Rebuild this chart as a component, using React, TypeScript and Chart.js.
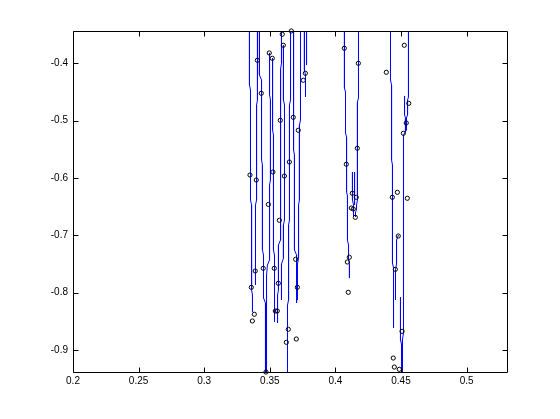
import React, { useEffect, useRef } from "react";
import { Chart, registerables } from "chart.js";

Chart.register(...registerables);

// ---- axis ranges & ticks ----
const xMin = 0.2;
const xMax = 0.531555;
const yMin = -0.9401;
const yMax = -0.3437;
const xTickValues = [0.2, 0.25, 0.3, 0.35, 0.4, 0.45, 0.5];
const xTickLabels = ["0.2", "0.25", "0.3", "0.35", "0.4", "0.45", "0.5"];
const yTickValues = [-0.9, -0.8, -0.7, -0.6, -0.5, -0.4];
const yTickLabels = ["-0.9", "-0.8", "-0.7", "-0.6", "-0.5", "-0.4"];

// ---- circle markers ----
const circleX = [
  0.3595, 0.3664, 0.3603, 0.3496, 0.3519, 0.3405, 0.3771, 0.3755, 0.3435, 0.3679,
  0.358, 0.3717, 0.3649, 0.3524, 0.3349, 0.3397, 0.3611, 0.3489, 0.3573, 0.3697,
  0.345, 0.3534, 0.3389, 0.3359, 0.3565, 0.371, 0.3382, 0.3367, 0.3542, 0.3557,
  0.3641, 0.3626, 0.3702, 0.3471,
  0.4068, 0.4175, 0.4388, 0.4525, 0.4559, 0.454, 0.4518, 0.4167, 0.4083, 0.4129,
  0.4159, 0.4434, 0.4472, 0.4548, 0.4121, 0.4136, 0.4152, 0.4106, 0.4091, 0.4098,
  0.4479, 0.4457, 0.4508, 0.4441, 0.4449, 0.4487,
];
const circleY = [
  -0.3494, -0.3437, -0.3686, -0.382, -0.3913, -0.3948, -0.4174, -0.4296, -0.4523, -0.4942,
  -0.4994, -0.5168, -0.5721, -0.5896, -0.5948, -0.6035, -0.5966, -0.6462, -0.6738, -0.7418,
  -0.7575, -0.7575, -0.7622, -0.7907, -0.7837, -0.7907, -0.8377, -0.8494, -0.832, -0.832,
  -0.8639, -0.8866, -0.8808, -0.9384,
  -0.3738, -0.4, -0.4157, -0.3686, -0.4698, -0.5041, -0.5221, -0.5482, -0.5761, -0.6267,
  -0.6337, -0.6337, -0.625, -0.6354, -0.6524, -0.6541, -0.6686, -0.7383, -0.7465, -0.7994,
  -0.7012, -0.7593, -0.8674, -0.914, -0.9297, -0.9337,
];

// ---- blue traces ([x, y] pairs) ----
const traceL1: [number, number][] = [[0.3345, -0.34], [0.3345, -0.4378], [0.3353, -0.4465], [0.3353, -0.6384], [0.3361, -0.6471], [0.3361, -0.7954], [0.3368, -0.8041], [0.3368, -0.8337]];
const traceL2: [number, number][] = [[0.3406, -0.34], [0.3406, -0.464], [0.3399, -0.4727], [0.3399, -0.6384], [0.3391, -0.6471], [0.3391, -0.7866]];
const traceL3: [number, number][] = [[0.3421, -0.34], [0.3421, -0.4204], [0.3437, -0.4291], [0.3437, -0.5686], [0.3444, -0.5774], [0.3444, -0.7256], [0.3452, -0.7343], [0.3452, -0.8093], [0.3467, -0.818], [0.3467, -0.945]];
const traceL4: [number, number][] = [[0.3498, -0.382], [0.3498, -0.455], [0.3505, -0.464], [0.3505, -0.6035], [0.3498, -0.6122], [0.3498, -0.743], [0.3482, -0.7517], [0.3475, -0.77], [0.3475, -0.945]];
const traceL5: [number, number][] = [[0.3521, -0.3908], [0.3521, -0.5163], [0.3528, -0.525], [0.3528, -0.7256], [0.3536, -0.7343], [0.3536, -0.8512]];
const traceL6: [number, number][] = [[0.3589, -0.34], [0.3589, -0.4], [0.3582, -0.41], [0.3582, -0.5512], [0.3582, -0.5599], [0.3582, -0.7082], [0.3566, -0.7169], [0.3566, -0.7954], [0.3559, -0.8041], [0.3559, -0.8529]];
const traceL7: [number, number][] = [[0.3604, -0.3681], [0.3604, -0.464], [0.3612, -0.4727], [0.3612, -0.6733], [0.3604, -0.682], [0.3604, -0.74], [0.3589, -0.75], [0.3589, -0.8128]];
const traceL8: [number, number][] = [[0.3658, -0.34], [0.3658, -0.464], [0.365, -0.4727], [0.365, -0.6733], [0.3643, -0.682], [0.3643, -0.8128], [0.3635, -0.8215], [0.3635, -0.945]];
const traceL9: [number, number][] = [[0.3681, -0.34], [0.3681, -0.5512], [0.3688, -0.5599], [0.3688, -0.7256], [0.3704, -0.7343], [0.3704, -0.818]];
const traceL10: [number, number][] = [[0.3734, -0.34], [0.3734, -0.4989], [0.3726, -0.5076], [0.3726, -0.6384], [0.3719, -0.6471], [0.3719, -0.74], [0.3711, -0.75], [0.3711, -0.8128]];
const traceL11: [number, number][] = [[0.3764, -0.34], [0.3764, -0.4117], [0.3772, -0.4204], [0.3772, -0.4588]];
const traceL12: [number, number][] = [[0.378, -0.34], [0.378, -0.4031]];
const traceR1: [number, number][] = [[0.4069, -0.34], [0.4069, -0.4431], [0.4077, -0.4501], [0.4077, -0.5216], [0.4085, -0.5285], [0.4085, -0.6244], [0.4092, -0.6314], [0.4092, -0.7082], [0.41, -0.7169], [0.41, -0.74], [0.4107, -0.75], [0.4107, -0.7745]];
const traceR2: [number, number][] = [[0.4176, -0.34], [0.4176, -0.4605], [0.4168, -0.4675], [0.4168, -0.6384], [0.4161, -0.6471], [0.4161, -0.655], [0.4153, -0.66], [0.4153, -0.6681]];
const traceR3: [number, number][] = [[0.413, -0.5896], [0.413, -0.6384], [0.4138, -0.6471], [0.4138, -0.6681]];
const traceR3b: [number, number][] = [[0.4146, -0.5896], [0.4146, -0.6471]];
const traceR4: [number, number][] = [[0.442, -0.34], [0.442, -0.4291], [0.4428, -0.4378], [0.4428, -0.5686], [0.4435, -0.5774], [0.4435, -0.7483], [0.4443, -0.757], [0.4443, -0.8616]];
const traceR5: [number, number][] = [[0.4557, -0.34], [0.4557, -0.4588], [0.455, -0.464], [0.455, -0.49], [0.4542, -0.495], [0.4542, -0.5163], [0.4519, -0.525], [0.4519, -0.8703], [0.4511, -0.8825], [0.4511, -0.945]];
const traceR6: [number, number][] = [[0.4527, -0.457], [0.4527, -0.49], [0.4534, -0.495], [0.4534, -0.5198]];
const traceR7: [number, number][] = [[0.4481, -0.6994], [0.4466, -0.7082], [0.4466, -0.75], [0.4458, -0.76], [0.4458, -0.8128]];
const traceR8: [number, number][] = [[0.4496, -0.8076], [0.4496, -0.8825], [0.4504, -0.89], [0.4504, -0.945]];

const blueTraces = [
  traceL1, traceL2, traceL3, traceL4, traceL5, traceL6, traceL7, traceL8, traceL9, traceL10,
  traceL11, traceL12, traceR1, traceR2, traceR3, traceR3b, traceR4, traceR5, traceR6, traceR7, traceR8,
];

const FONT = "'Liberation Sans', Arial, Helvetica, sans-serif";

const framePlugin = {
  id: "matlabFrame",
  afterDraw(chart: any) {
    const { ctx, chartArea: a, scales } = chart;
    const l = Math.round(a.left) + 0.5;
    const r = Math.round(a.right) - 0.5;
    const t = Math.round(a.top) + 0.5;
    const b = Math.round(a.bottom) - 0.5;
    const tl = 5;
    ctx.save();
    ctx.strokeStyle = "#000";
    ctx.lineWidth = 1;
    ctx.beginPath();
    ctx.rect(l, t, r - l, b - t);
    for (const v of xTickValues) {
      const px = Math.round(scales.x.getPixelForValue(v)) + 0.5;
      ctx.moveTo(px, b);
      ctx.lineTo(px, b - tl);
      ctx.moveTo(px, t);
      ctx.lineTo(px, t + tl);
    }
    for (const v of yTickValues) {
      const py = Math.round(scales.y.getPixelForValue(v)) + 0.5;
      ctx.moveTo(l, py);
      ctx.lineTo(l + tl, py);
      ctx.moveTo(r, py);
      ctx.lineTo(r - tl, py);
    }
    ctx.stroke();
    ctx.restore();
  },
};

function labelFor(values: number[], labels: string[], value: number) {
  const i = values.findIndex((v) => Math.abs(v - value) < 1e-9);
  return i >= 0 ? labels[i] : "";
}

export default function App() {
  const canvasRef = useRef<HTMLCanvasElement | null>(null);

  useEffect(() => {
    if (!canvasRef.current) return;
    const datasets: any[] = [
      {
        label: "circles",
        data: circleX.map((x, i) => ({ x, y: circleY[i] })),
        showLine: false,
        pointStyle: "circle",
        pointRadius: 2.1,
        pointBorderWidth: 1,
        pointBorderColor: "#000000",
        pointBackgroundColor: "rgba(0,0,0,0)",
        clip: false,
      },
      ...blueTraces.map((tr, k) => ({
        label: "trace" + k,
        data: tr.map(([x, y]) => ({ x, y })),
        showLine: true,
        borderColor: "#0000ff",
        borderWidth: 1,
        pointRadius: 0,
        fill: false,
        tension: 0,
      })),
    ];

    const chart = new Chart(canvasRef.current, {
      type: "scatter",
      data: { datasets },
      options: {
        animation: false,
        responsive: true,
        maintainAspectRatio: false,
        events: [],
        layout: { padding: { top: 31, right: 52, left: 0, bottom: 0 } },
        plugins: { legend: { display: false }, tooltip: { enabled: false } },
        scales: {
          x: {
            type: "linear",
            min: xMin,
            max: xMax,
            grid: { display: false, drawTicks: false },
            border: { display: false },
            afterBuildTicks: (axis: any) => {
              axis.ticks = xTickValues.map((v) => ({ value: v }));
            },
            afterFit: (axis: any) => {
              axis.height = 46;
            },
            ticks: {
              autoSkip: false,
              maxRotation: 0,
              padding: 2,
              color: "#000",
              font: { family: FONT, size: 10 },
              callback: (value: any) => labelFor(xTickValues, xTickLabels, Number(value)),
            },
          },
          y: {
            type: "linear",
            min: yMin,
            max: yMax,
            grid: { display: false, drawTicks: false },
            border: { display: false },
            afterBuildTicks: (axis: any) => {
              axis.ticks = yTickValues.map((v) => ({ value: v }));
            },
            afterFit: (axis: any) => {
              axis.width = 73;
            },
            ticks: {
              autoSkip: false,
              padding: 5,
              color: "#000",
              font: { family: FONT, size: 10 },
              callback: (value: any) => labelFor(yTickValues, yTickLabels, Number(value)),
            },
          },
        },
      },
      plugins: [framePlugin],
    });
    return () => chart.destroy();
  }, []);

  return (
    <div style={{ position: "fixed", left: 0, top: 0, width: 560, height: 419, background: "#fff" }}>
      <canvas ref={canvasRef} />
    </div>
  );
}
